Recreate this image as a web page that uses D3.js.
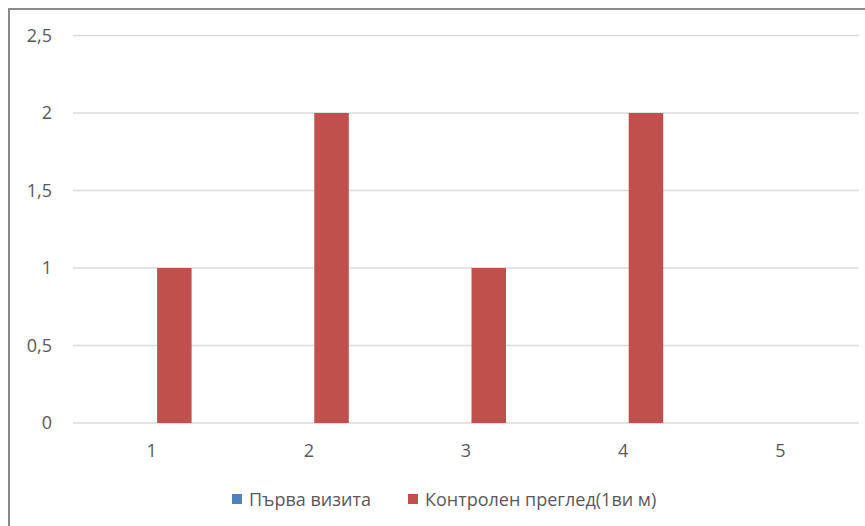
<!DOCTYPE html>
<html>
<head>
<meta charset="utf-8">
<script src="https://cdn.jsdelivr.net/npm/d3@7"></script>
<style>
  html, body { margin: 0; padding: 0; background: #fff; }
  svg { display: block; }
  text { font-family: "Open Sans", "Noto Sans", sans-serif; fill: #595959; }
</style>
</head>
<body>
<svg id="chart" width="865" height="526"></svg>
<script>
// Categories (visit numbers) and the two series
const categories = ["1", "2", "3", "4", "5"];
const seriesNames = ["Първа визита", "Контролен преглед(1ви м)"];
const firstVisit = [0, 0, 0, 0, 0];
const followUp = [1, 2, 1, 2, 0];
const yTicks = [0, 0.5, 1, 1.5, 2, 2.5];
const colors = ["#4f81bd", "#c0504d"];

const seriesValues = [firstVisit, followUp];
const svg = d3.select("#chart");

// Frame (left and top edges visible)
svg.append("path")
  .attr("d", "M9,526V9H865")
  .attr("fill", "none")
  .attr("stroke", "#8a8a8a")
  .attr("stroke-width", 2);

const plot = { left: 73, right: 859, top: 35.5, bottom: 423 };

const x0 = d3.scaleBand().domain(categories).range([plot.left, plot.right]).padding(0);
const x1 = d3.scaleBand().domain(seriesNames)
  .range([x0.bandwidth() / 2 - 40, x0.bandwidth() / 2 + 40])
  .paddingInner(0.2418).paddingOuter(0);
const y = d3.scaleLinear().domain([0, 2.5]).range([plot.bottom, plot.top]);

const fmt = v => String(v).replace(".", ",");

// Horizontal gridlines
svg.append("g")
  .selectAll("line")
  .data(yTicks)
  .join("line")
  .attr("x1", plot.left).attr("x2", plot.right)
  .attr("y1", d => y(d)).attr("y2", d => y(d))
  .attr("stroke", "#dadada")
  .attr("stroke-width", 1.5);

// Y axis labels
const yAxis = svg.append("g")
  .attr("transform", `translate(${plot.left},0)`)
  .call(d3.axisLeft(y).tickValues(yTicks).tickFormat(fmt).tickSize(0).tickPadding(21));
yAxis.select(".domain").remove();
yAxis.selectAll("text").style("font-size", "18px").attr("fill", "#595959");

// X axis labels
const xAxis = svg.append("g")
  .attr("transform", `translate(0,${plot.bottom})`)
  .call(d3.axisBottom(x0).tickSize(0).tickPadding(21));
xAxis.select(".domain").remove();
xAxis.selectAll("text").style("font-size", "18px").attr("fill", "#595959");

// Bars
seriesNames.forEach((name, si) => {
  svg.append("g")
    .selectAll("rect")
    .data(categories.map((c, i) => ({ c, v: seriesValues[si][i] })))
    .join("rect")
    .attr("x", d => x0(d.c) + x1(name))
    .attr("width", x1.bandwidth())
    .attr("y", d => y(d.v))
    .attr("height", d => y(0) - y(d.v))
    .attr("fill", colors[si]);
});

// Legend
const legendX = [232, 408];
const legend = svg.append("g");
seriesNames.forEach((name, i) => {
  legend.append("rect")
    .attr("x", legendX[i]).attr("y", 494)
    .attr("width", 10).attr("height", 10)
    .attr("fill", colors[i]);
  legend.append("text")
    .attr("x", legendX[i] + 17).attr("y", 506)
    .style("font-size", "18px")
    .text(name);
});
</script>
</body>
</html>
